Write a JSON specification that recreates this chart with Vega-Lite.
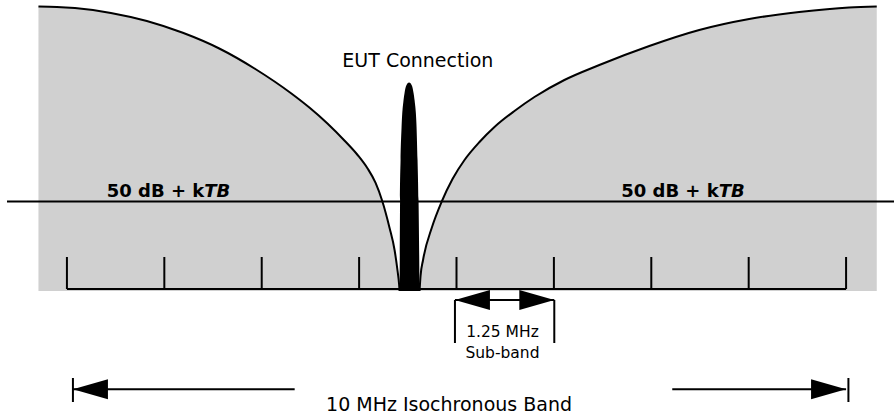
{
  "$schema": "https://vega.github.io/schema/vega-lite/v6.json",
  "width": 895,
  "height": 417,
  "padding": 0,
  "autosize": {"type": "fit", "contains": "padding"},
  "background": "white",
  "config": {"view": {"stroke": null}, "axis": {"disable": true}},
  "datasets": {
    "curves": [
      {"side": "left", "mhz": -0.3654, "level": 284.5},
      {"side": "left", "mhz": -0.1282, "level": 284.1},
      {"side": "left", "mhz": 0.1026, "level": 282.9},
      {"side": "left", "mhz": 0.5641, "level": 278.1},
      {"side": "left", "mhz": 1.0256, "level": 270},
      {"side": "left", "mhz": 1.4872, "level": 258.2},
      {"side": "left", "mhz": 1.9551, "level": 242.5},
      {"side": "left", "mhz": 2.4179, "level": 222},
      {"side": "left", "mhz": 2.8808, "level": 197.5},
      {"side": "left", "mhz": 3.1154, "level": 183.2},
      {"side": "left", "mhz": 3.3436, "level": 167.5},
      {"side": "left", "mhz": 3.5641, "level": 150.3},
      {"side": "left", "mhz": 3.7308, "level": 136},
      {"side": "left", "mhz": 3.859, "level": 122.5},
      {"side": "left", "mhz": 3.9615, "level": 108.1},
      {"side": "left", "mhz": 4.0449, "level": 90.5},
      {"side": "left", "mhz": 4.141, "level": 63},
      {"side": "left", "mhz": 4.2051, "level": 41},
      {"side": "left", "mhz": 4.2436, "level": 20},
      {"side": "left", "mhz": 4.2628, "level": 7},
      {"side": "left", "mhz": 4.2692, "level": 0},
      {"side": "right", "mhz": 4.5256, "level": 0},
      {"side": "right", "mhz": 4.5385, "level": 15},
      {"side": "right", "mhz": 4.5705, "level": 31},
      {"side": "right", "mhz": 4.6859, "level": 64},
      {"side": "right", "mhz": 4.8077, "level": 89},
      {"side": "right", "mhz": 4.9487, "level": 112},
      {"side": "right", "mhz": 5.1026, "level": 131},
      {"side": "right", "mhz": 5.2949, "level": 149},
      {"side": "right", "mhz": 5.4872, "level": 164},
      {"side": "right", "mhz": 5.7436, "level": 180},
      {"side": "right", "mhz": 6.0, "level": 194},
      {"side": "right", "mhz": 6.3846, "level": 211},
      {"side": "right", "mhz": 6.8333, "level": 226},
      {"side": "right", "mhz": 7.4744, "level": 245},
      {"side": "right", "mhz": 8.1154, "level": 261},
      {"side": "right", "mhz": 8.7564, "level": 272},
      {"side": "right", "mhz": 9.3974, "level": 279},
      {"side": "right", "mhz": 10.0385, "level": 283.6},
      {"side": "right", "mhz": 10.3936, "level": 284.5}
    ],
    "spike": [
      {"mhz": 4.2692, "level": 0},
      {"mhz": 4.2718, "level": 31},
      {"mhz": 4.2756, "level": 91},
      {"mhz": 4.2821, "level": 131},
      {"mhz": 4.2949, "level": 164},
      {"mhz": 4.3205, "level": 191},
      {"mhz": 4.3333, "level": 198},
      {"mhz": 4.3526, "level": 205},
      {"mhz": 4.391, "level": 208.5},
      {"mhz": 4.4295, "level": 205},
      {"mhz": 4.4487, "level": 198},
      {"mhz": 4.4615, "level": 191},
      {"mhz": 4.4872, "level": 164},
      {"mhz": 4.5, "level": 131},
      {"mhz": 4.5128, "level": 91},
      {"mhz": 4.5218, "level": 31},
      {"mhz": 4.5256, "level": 0}
    ],
    "hlines": [
      {"name": "threshold", "x1": -0.769, "x2": 10.615, "level": 89.5},
      {"name": "scale", "x1": 0, "x2": 10, "level": 2},
      {"name": "subband", "x1": 4.98, "x2": 6.255, "level": -9},
      {"name": "bandLeft", "x1": 0.077, "x2": 2.923, "level": -98.3},
      {"name": "bandRight", "x1": 7.769, "x2": 10.0, "level": -98.3}
    ],
    "vlines": [
      {"mhz": 0, "l1": 2, "l2": 34},
      {"mhz": 1.25, "l1": 2, "l2": 34},
      {"mhz": 2.5, "l1": 2, "l2": 34},
      {"mhz": 3.75, "l1": 2, "l2": 34},
      {"mhz": 5.0, "l1": 2, "l2": 34},
      {"mhz": 6.25, "l1": 2, "l2": 34},
      {"mhz": 7.5, "l1": 2, "l2": 34},
      {"mhz": 8.75, "l1": 2, "l2": 34},
      {"mhz": 10.0, "l1": 2, "l2": 34},
      {"mhz": 4.98, "l1": -9, "l2": -52},
      {"mhz": 6.255, "l1": -9, "l2": -52},
      {"mhz": 0.077, "l1": -87, "l2": -111},
      {"mhz": 10.03, "l1": -87, "l2": -111}
    ],
    "heads": [
      {"dir": "left", "mhz": 4.98, "level": -9},
      {"dir": "right", "mhz": 6.255, "level": -9},
      {"dir": "left", "mhz": 0.077, "level": -98.3},
      {"dir": "right", "mhz": 10.0, "level": -98.3}
    ]
  },
  "layer": [
    {
      "data": {"name": "curves"},
      "mark": {"type": "area", "color": "#d0d0d0", "interpolate": "monotone", "opacity": 1},
      "encoding": {
        "x": {"field": "mhz", "type": "quantitative", "scale": {"domain": [-0.859, 10.615], "nice": false, "zero": false}},
        "y": {"field": "level", "type": "quantitative", "scale": {"domain": [-126, 291], "nice": false, "zero": false}},
        "y2": {"datum": 0},
        "detail": {"field": "side"}
      }
    },
    {
      "data": {"name": "curves"},
      "mark": {"type": "line", "color": "black", "strokeWidth": 2, "interpolate": "monotone"},
      "encoding": {
        "x": {"field": "mhz", "type": "quantitative", "scale": {"domain": [-0.859, 10.615], "nice": false, "zero": false}},
        "y": {"field": "level", "type": "quantitative", "scale": {"domain": [-126, 291], "nice": false, "zero": false}},
        "detail": {"field": "side"}
      }
    },
    {
      "data": {"name": "hlines"},
      "mark": {"type": "rule", "color": "black", "strokeWidth": 2},
      "encoding": {
        "x": {"field": "x1", "type": "quantitative", "scale": {"domain": [-0.859, 10.615], "nice": false, "zero": false}},
        "x2": {"field": "x2"},
        "y": {"field": "level", "type": "quantitative", "scale": {"domain": [-126, 291], "nice": false, "zero": false}}
      }
    },
    {
      "data": {"name": "vlines"},
      "mark": {"type": "rule", "color": "black", "strokeWidth": 2},
      "encoding": {
        "x": {"field": "mhz", "type": "quantitative", "scale": {"domain": [-0.859, 10.615], "nice": false, "zero": false}},
        "y": {"field": "l1", "type": "quantitative", "scale": {"domain": [-126, 291], "nice": false, "zero": false}},
        "y2": {"field": "l2"}
      }
    },
    {
      "data": {"name": "spike"},
      "mark": {"type": "area", "color": "black", "interpolate": "monotone", "opacity": 1},
      "encoding": {
        "x": {"field": "mhz", "type": "quantitative", "scale": {"domain": [-0.859, 10.615], "nice": false, "zero": false}},
        "y": {"field": "level", "type": "quantitative", "scale": {"domain": [-126, 291], "nice": false, "zero": false}},
        "y2": {"datum": 0}
      }
    },
    {
      "data": {"name": "heads"},
      "mark": {"type": "point", "filled": true, "size": 1225, "opacity": 1, "color": "black", "strokeWidth": 0},
      "encoding": {
        "x": {"field": "mhz", "type": "quantitative", "scale": {"domain": [-0.859, 10.615], "nice": false, "zero": false}},
        "y": {"field": "level", "type": "quantitative", "scale": {"domain": [-126, 291], "nice": false, "zero": false}},
        "shape": {"field": "dir", "type": "nominal", "legend": null, "scale": {"domain": ["left", "right"], "range": ["M0,0L2,-0.571L2,0.571Z", "M0,0L-2,-0.571L-2,0.571Z"]}}
      }
    },
    {
      "data": {"values": [
        {"label": "EUT Connection", "mhz": 4.504, "level": 224.3},
        {"label": "10 MHz Isochronous Band", "mhz": 4.904, "level": -119.7}
      ]},
      "mark": {"type": "text", "font": "DejaVu Sans", "fontSize": 19, "align": "center", "baseline": "alphabetic", "color": "black"},
      "encoding": {
        "x": {"field": "mhz", "type": "quantitative", "scale": {"domain": [-0.859, 10.615], "nice": false, "zero": false}},
        "y": {"field": "level", "type": "quantitative", "scale": {"domain": [-126, 291], "nice": false, "zero": false}},
        "text": {"field": "label"}
      }
    },
    {
      "data": {"values": [
        {"label": "1.25 MHz", "mhz": 5.59, "level": -46},
        {"label": "Sub-band", "mhz": 5.59, "level": -67}
      ]},
      "mark": {"type": "text", "font": "DejaVu Sans", "fontSize": 15.5, "align": "center", "baseline": "alphabetic", "color": "black"},
      "encoding": {
        "x": {"field": "mhz", "type": "quantitative", "scale": {"domain": [-0.859, 10.615], "nice": false, "zero": false}},
        "y": {"field": "level", "type": "quantitative", "scale": {"domain": [-126, 291], "nice": false, "zero": false}},
        "text": {"field": "label"}
      }
    },
    {
      "data": {"values": [
        {"label": "50 dB + k", "mhz": 1.763, "level": 94.3},
        {"label": "50 dB + k", "mhz": 8.365, "level": 94.3}
      ]},
      "mark": {"type": "text", "font": "DejaVu Sans", "fontSize": 18, "fontWeight": "bold", "align": "right", "baseline": "alphabetic", "color": "black"},
      "encoding": {
        "x": {"field": "mhz", "type": "quantitative", "scale": {"domain": [-0.859, 10.615], "nice": false, "zero": false}},
        "y": {"field": "level", "type": "quantitative", "scale": {"domain": [-126, 291], "nice": false, "zero": false}},
        "text": {"field": "label"}
      }
    },
    {
      "data": {"values": [
        {"label": "TB", "mhz": 1.763, "level": 94.3},
        {"label": "TB", "mhz": 8.365, "level": 94.3}
      ]},
      "mark": {"type": "text", "font": "DejaVu Sans", "fontSize": 18, "fontWeight": "bold", "fontStyle": "italic", "align": "left", "baseline": "alphabetic", "color": "black"},
      "encoding": {
        "x": {"field": "mhz", "type": "quantitative", "scale": {"domain": [-0.859, 10.615], "nice": false, "zero": false}},
        "y": {"field": "level", "type": "quantitative", "scale": {"domain": [-126, 291], "nice": false, "zero": false}},
        "text": {"field": "label"}
      }
    }
  ]
}
